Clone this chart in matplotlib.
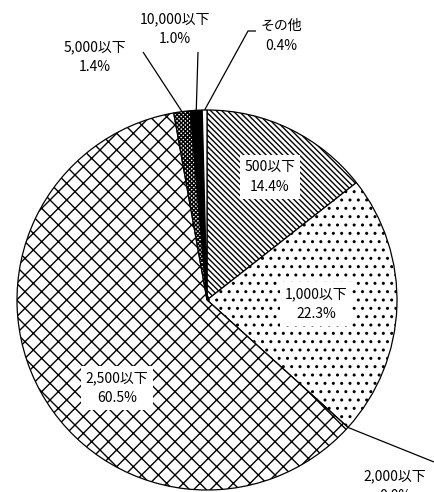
import numpy as np
import matplotlib
matplotlib.use("Agg")
import matplotlib.pyplot as plt

plt.rcParams['font.family'] = ['Noto Sans CJK JP', 'DejaVu Sans']
plt.rcParams['hatch.linewidth'] = 1.0

# データ（上から時計回り）
labels = ["500以下", "1,000以下", "2,000以下", "2,500以下", "5,000以下", "10,000以下", "その他"]
shares = [14.4, 22.3, 0.0, 60.5, 1.4, 1.0, 0.4]
hatches = ["\\\\\\\\\\\\", "..", "", "xx", "xxxxxxxx", "", ""]
faces = ["white", "white", "white", "white", "white", "black", "white"]

# 画像のピクセル座標（円の中心と半径）
W, H = 434, 492
CX, CY, R = 207, 300, 190


def px(x, y):
    return (x - CX) / R, (CY - y) / R


fig = plt.figure(figsize=(W / 100, H / 100), dpi=100)
ax = fig.add_axes([0, 0, 1, 1])

wedges, _ = ax.pie(shares, startangle=90, counterclock=False, radius=1.0,
                   colors=faces,
                   wedgeprops=dict(edgecolor="black", linewidth=0.9))
for w, h in zip(wedges, hatches):
    if h:
        w.set_hatch(h)

ax.set_xlim(-CX / R, (W - CX) / R)
ax.set_ylim((CY - H) / R, CY / R)
ax.axis("off")


def pct(v):
    return f"{v:.1f}%"


def edge_point(i):
    w = wedges[i]
    a = np.deg2rad((w.theta1 + w.theta2) / 2)
    return np.cos(a), np.sin(a)


# 円の内側のラベル（白背景）
inside = {0: (270, 177), 1: (316, 304), 3: (117, 388)}
for i, (x, y) in inside.items():
    ax.text(*px(x, y), f"{labels[i]}\n{pct(shares[i])}", ha="center", va="center",
            fontsize=10, linespacing=1.55,
            bbox=dict(boxstyle="square,pad=0.35", facecolor="white", edgecolor="none"))

# 引き出し線付きのラベル
outside = {
    4: ((95, 57), [(143, 52)]),
    5: ((175, 29), [(198, 52)]),
    6: ((281, 36), [(248, 31), (256, 31)]),
    2: ((395, 486), [(434, 462)]),
}
for i, ((tx, ty), path) in outside.items():
    ex, ey = edge_point(i)
    xs = [ex] + [px(x, y)[0] for x, y in path]
    ys = [ey] + [px(x, y)[1] for x, y in path]
    ax.plot(xs, ys, color="black", linewidth=0.9, solid_capstyle="butt")
    ax.text(*px(tx, ty), f"{labels[i]}\n{pct(shares[i])}", ha="center", va="center",
            fontsize=10, linespacing=1.55)

fig.savefig("out.png", dpi=100)
